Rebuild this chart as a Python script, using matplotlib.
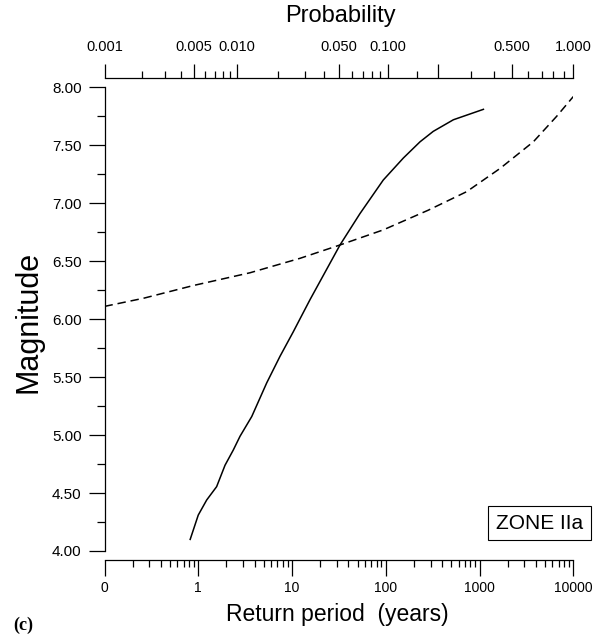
import numpy as np
import matplotlib
matplotlib.use("Agg")
import matplotlib.pyplot as plt
from matplotlib import font_manager
from matplotlib.ticker import FixedLocator, FixedFormatter, NullFormatter, LogLocator

# solid curve: magnitude vs return period (years)
T_solid = [0.82, 1.0, 1.23, 1.57, 1.93, 2.36, 2.79, 3.72, 5.37, 7.45, 10.3, 12.3, 15.6,
           32.5, 53, 94, 154, 232, 321, 526, 1100]
M_solid = [4.10, 4.31, 4.44, 4.555, 4.74, 4.87, 4.99, 5.16, 5.45, 5.68, 5.89, 6.01, 6.17,
           6.64, 6.91, 7.20, 7.39, 7.53, 7.62, 7.72, 7.81]

# dashed curve
T_dash = [0.1, 0.26, 0.885, 3.56, 12.2, 32.5, 94, 284, 730, 1655, 3750, 6650, 10000]
M_dash = [6.11, 6.18, 6.29, 6.40, 6.525, 6.64, 6.77, 6.94, 7.10, 7.30, 7.53, 7.75, 7.92]

# bottom axis ticks
ret_ticks = [0.1, 1, 10, 100, 1000, 10000]
ret_labels = ["0", "1", "10", "100", "1000", "10000"]

# probability axis (top) - nonuniform scale, knots read from tick positions
# expressed as log10(return period) equivalent
p_knots = [0.001, 0.002, 0.005, 0.01, 0.02, 0.05, 0.1, 0.2, 0.5, 1.0]
u_knots = [-1.0, -0.603, -0.045, 0.410, 0.854, 1.501, 2.021, 2.561, 3.343, 4.0]
p_major = [0.001, 0.005, 0.01, 0.05, 0.1, 0.2, 0.5, 1.0]
p_labels = ["0.001", "0.005", "0.010", "0.050", "0.100", "", "0.500", "1.000"]
p_minor = [0.002, 0.003, 0.004, 0.006, 0.007, 0.008, 0.009,
           0.02, 0.03, 0.04, 0.06, 0.07, 0.08, 0.09,
           0.15, 0.3, 0.4, 0.6, 0.7, 0.8, 0.9]

log_pk = np.log10(p_knots)


def p_fwd(p):
    p = np.clip(np.asarray(p, dtype=float), 1e-6, None)
    return np.interp(np.log10(p), log_pk, u_knots)


def p_inv(u):
    return 10 ** np.interp(np.asarray(u, dtype=float), u_knots, log_pk)


plt.rcParams["font.family"] = "Liberation Sans"
names = {f.name for f in font_manager.fontManager.ttflist}
narrow = "Liberation Sans Narrow" in names

W, H = 593, 636
fig = plt.figure(figsize=(W / 100, H / 100), dpi=100)
ax = fig.add_axes([104.5 / W, 85 / H, 468.8 / W, 463.7 / H])

ax.plot(T_solid, M_solid, color="black", lw=1.1)
ax.plot(T_dash, M_dash, color="black", lw=1.1, linestyle=(0, (5.5, 3.2)))

ax.set_xscale("log")
ax.set_xlim(0.1, 10000)
ax.set_ylim(4.0, 8.0)
ax.xaxis.set_major_locator(FixedLocator(ret_ticks))
ax.xaxis.set_major_formatter(FixedFormatter(ret_labels))
ax.xaxis.set_minor_locator(LogLocator(base=10, subs=np.arange(2, 10)))
ax.xaxis.set_minor_formatter(NullFormatter())
ax.set_yticks(np.arange(4.0, 8.01, 0.5))
ax.set_yticks(np.arange(4.25, 8.0, 0.5), minor=True)
ax.yaxis.set_major_formatter(matplotlib.ticker.FormatStrFormatter("%.2f"))

for s in ["top", "right"]:
    ax.spines[s].set_visible(False)
ax.spines["bottom"].set_position(("outward", 6.5))
for s in ["left", "bottom"]:
    ax.spines[s].set_linewidth(0.9)

ax.tick_params(axis="x", which="major", direction="out", length=11.3, width=0.9,
               pad=4, labelsize=10)
ax.tick_params(axis="x", which="minor", direction="out", length=4.8, width=0.9)
ax.tick_params(axis="y", which="major", direction="out", length=11.5, width=0.9,
               pad=5, labelsize=11)
ax.tick_params(axis="y", which="minor", direction="out", length=5.5, width=0.9)

# top probability axis
ax2 = ax.twiny()
ax2.set_xscale("function", functions=(p_fwd, p_inv))
ax2.set_xlim(0.001, 1.0)
ax2.xaxis.set_major_locator(FixedLocator(p_major))
ax2.xaxis.set_major_formatter(FixedFormatter(p_labels))
ax2.xaxis.set_minor_locator(FixedLocator(p_minor))
ax2.xaxis.set_minor_formatter(NullFormatter())
for s in ["left", "right", "bottom"]:
    ax2.spines[s].set_visible(False)
ax2.spines["top"].set_position(("outward", 6.7))
ax2.spines["top"].set_linewidth(0.9)
ax2.tick_params(axis="x", which="major", direction="out", length=10, width=0.9,
                pad=7, labelsize=10.5)
ax2.tick_params(axis="x", which="minor", direction="out", length=4.8, width=0.9)

ax.text(0.928, 0.060, "ZONE IIa", transform=ax.transAxes, ha="center", va="center",
        fontsize=15, clip_on=False,
        bbox=dict(boxstyle="square,pad=0.36", facecolor="white", edgecolor="black", lw=0.8))

fig.text(340 / W, 1 - 16 / H, "Probability", ha="center", va="center", fontsize=17)
fig.text(28 / W, 1 - 322 / H, "Magnitude", ha="center", va="center", rotation=90,
         fontsize=22)
if narrow:
    fig.text(337 / W, 1 - 615 / H, "Return period  (years)", ha="center", va="center",
             fontsize=19.5, family="Liberation Sans Narrow")
else:
    fig.text(337 / W, 1 - 615 / H, "Return period  (years)", ha="center", va="center",
             fontsize=16.5)
fig.text(13 / W, 1 - 625 / H, "(c)", ha="left", va="center", fontsize=13,
         family="Liberation Serif", weight="bold")

fig.savefig("out.png", dpi=100)
